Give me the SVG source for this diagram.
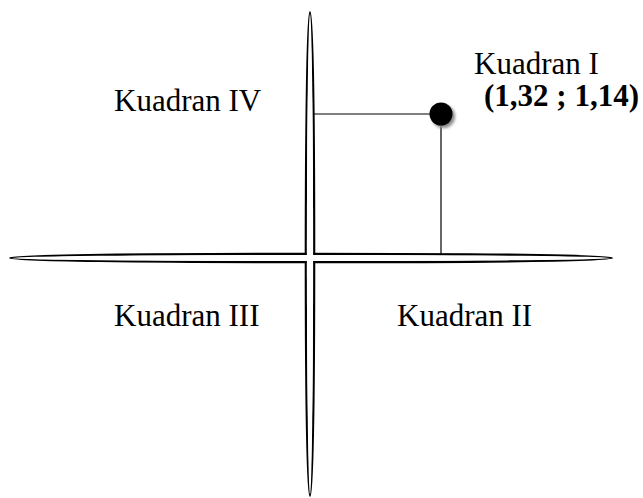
<svg xmlns="http://www.w3.org/2000/svg" width="643" height="498" viewBox="0 0 643 498">
  <defs>
    <filter id="soft" x="-50%" y="-50%" width="200%" height="200%">
      <feGaussianBlur stdDeviation="1.6"/>
    </filter>
  </defs>
  <style>
    .axis { fill: none; stroke: #000; stroke-width: 2.2; }
    .axis-fill { fill: #fff; stroke: none; }
    .guide { stroke: #000; stroke-width: 1.2; fill: none; }
    .label { font-family: "Liberation Serif", "Times New Roman", serif; font-size: 31px; fill: #000; }
    .coord { font-family: "Liberation Serif", "Times New Roman", serif; font-size: 31px; font-weight: bold; fill: #000; }
  </style>
  <rect width="643" height="498" fill="#fff"/>

  <!-- axes: slim lens shapes, outlines joined into a plus -->
  <g id="axes">
    <ellipse class="axis" cx="310" cy="254" rx="4.2" ry="242"/>
    <ellipse class="axis" cx="311" cy="258" rx="301" ry="4.2"/>
    <ellipse class="axis-fill" cx="310" cy="254" rx="3.1" ry="240"/>
    <ellipse class="axis-fill" cx="311" cy="258" rx="299" ry="3.1"/>
  </g>

  <g id="connectors">
    <line class="guide" x1="314" y1="114" x2="441" y2="114"/>
    <line class="guide" x1="441" y1="114" x2="441" y2="254"/>
  </g>

  <g id="point">
    <circle cx="443.5" cy="116.5" r="11.5" fill="#888" filter="url(#soft)"/>
    <circle cx="441" cy="114" r="11.5" fill="#000"/>
  </g>

  <g id="kuadran-1">
    <text class="label" x="474" y="74">Kuadran I</text>
    <text class="coord" x="484" y="106">(1,32 ; 1,14)</text>
  </g>
  <g id="kuadran-4">
    <text class="label" x="114" y="111">Kuadran IV</text>
  </g>
  <g id="kuadran-3">
    <text class="label" x="114" y="326">Kuadran III</text>
  </g>
  <g id="kuadran-2">
    <text class="label" x="397" y="326">Kuadran II</text>
  </g>
</svg>
